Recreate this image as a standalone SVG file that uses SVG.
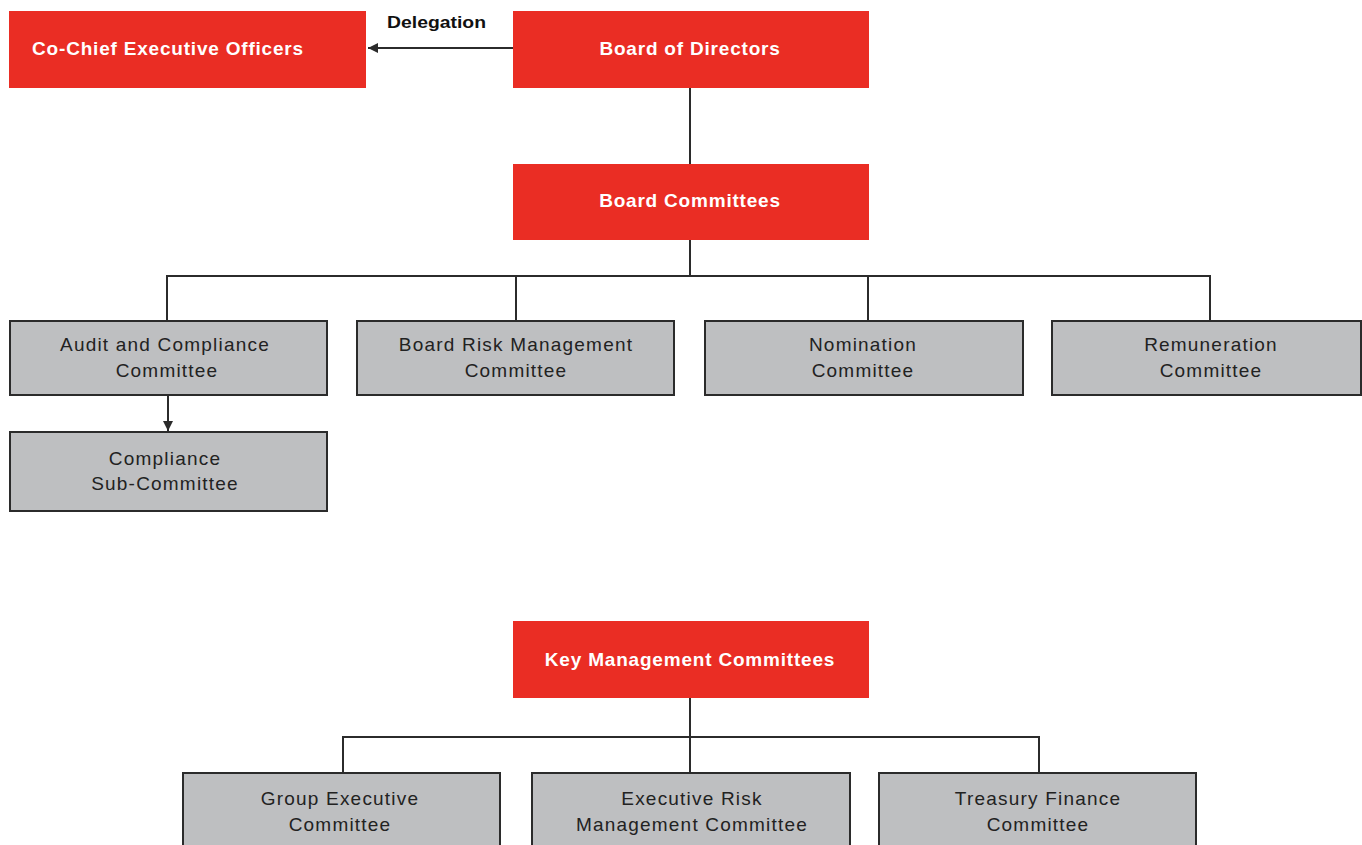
<svg xmlns="http://www.w3.org/2000/svg" width="1362" height="845" viewBox="0 0 1362 845">
<defs>
<style>
.red{fill:#EA2D24}
.grey{fill:#BEBFC1;stroke:#2b2b2b;stroke-width:2}
.wt{fill:#fff;font-family:"Liberation Sans",Arial,sans-serif;font-size:19px;font-weight:bold;text-anchor:middle;letter-spacing:0.8px}
.gt{fill:#222;font-family:"Liberation Sans",Arial,sans-serif;font-size:19px;text-anchor:middle;letter-spacing:1.2px}
.ln{fill:none;stroke:#2b2b2b;stroke-width:2}
</style>
<marker id="ah" viewBox="0 0 10 10" refX="10" refY="5" markerWidth="5" markerHeight="5" orient="auto-start-reverse"><path d="M0,0 L10,5 L0,10 z" fill="#2b2b2b"/></marker>
</defs>
<rect width="1362" height="845" fill="#fff"/>
<g id="connectors">
<path class="ln" d="M513,48 H368" marker-end="url(#ah)"/>
<path class="ln" d="M690,88 V164"/>
<path class="ln" d="M690,240 V276 M167,321 V276 H1210 V321 M516,276 V321 M868,276 V321"/>
<path class="ln" d="M168,395 V431" marker-end="url(#ah)"/>
<path class="ln" d="M690,698 V737 M343,773 V737 H1039 V773 M690,737 V773"/>
<text x="387" y="28" textLength="99" lengthAdjust="spacingAndGlyphs" style="font-family:'Liberation Sans',Arial,sans-serif;font-size:17px;font-weight:bold;fill:#111">Delegation</text>
</g>
<g id="ceo"><rect class="red" x="9" y="11" width="357" height="77"/><text class="wt" x="168" y="55">Co-Chief Executive Officers</text></g>
<g id="board"><rect class="red" x="513" y="11" width="356" height="77"/><text class="wt" x="690" y="55">Board of Directors</text></g>
<g id="boardcomm"><rect class="red" x="513" y="164" width="356" height="76"/><text class="wt" x="690" y="207">Board Committees</text></g>
<g id="audit"><rect class="grey" x="10" y="321" width="317" height="74"/><text class="gt" x="165" y="351">Audit and Compliance</text><text class="gt" x="167" y="377">Committee</text></g>
<g id="risk"><rect class="grey" x="357" y="321" width="317" height="74"/><text class="gt" x="516" y="351">Board Risk Management</text><text class="gt" x="516" y="377">Committee</text></g>
<g id="nomination"><rect class="grey" x="705" y="321" width="318" height="74"/><text class="gt" x="863" y="351">Nomination</text><text class="gt" x="863" y="377">Committee</text></g>
<g id="remuneration"><rect class="grey" x="1052" y="321" width="309" height="74"/><text class="gt" x="1211" y="351">Remuneration</text><text class="gt" x="1211" y="377">Committee</text></g>
<g id="compliance"><rect class="grey" x="10" y="432" width="317" height="79"/><text class="gt" x="165" y="465">Compliance</text><text class="gt" x="165" y="490">Sub-Committee</text></g>
<g id="keymgmt"><rect class="red" x="513" y="621" width="356" height="77"/><text class="wt" x="690" y="666">Key Management Committees</text></g>
<g id="groupexec"><rect class="grey" x="183" y="773" width="317" height="80"/><text class="gt" x="340" y="805">Group Executive</text><text class="gt" x="340" y="831">Committee</text></g>
<g id="execrisk"><rect class="grey" x="532" y="773" width="318" height="80"/><text class="gt" x="692" y="805">Executive Risk</text><text class="gt" x="692" y="831">Management Committee</text></g>
<g id="treasury"><rect class="grey" x="879" y="773" width="317" height="80"/><text class="gt" x="1038" y="805">Treasury Finance</text><text class="gt" x="1038" y="831">Committee</text></g>
</svg>
